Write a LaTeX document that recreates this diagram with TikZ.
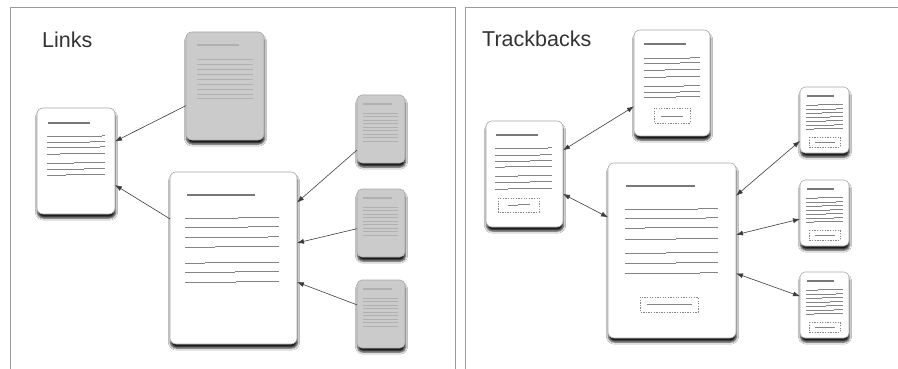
\documentclass[tikz,border=0pt]{standalone}
\usepackage{fontspec}
\setmainfont{Liberation Sans}
\usetikzlibrary{arrows.meta,shadows.blur}

\definecolor{framegrey}{HTML}{9A9A9A}
\definecolor{edgegrey}{HTML}{A8A8A8}
\definecolor{papergrey}{HTML}{CBCBCB}
\definecolor{inkgrey}{HTML}{858585}
\definecolor{titleink}{HTML}{787878}
\definecolor{fadedink}{HTML}{B0B0B0}
\definecolor{arrowgrey}{HTML}{3C3C3C}
\definecolor{headinggrey}{HTML}{333333}

% one text line of a page, with the small step where the rule breaks
\newcommand\pgline[5][]{%
  \draw[pageline,#1] (#2,#5) -- (#3,#5) (#3,#5-0.6) -- (#4,#5-0.6);}

\begin{document}
\begin{tikzpicture}[x=1pt,y=-1pt,
  page/.style={draw=edgegrey, line width=0.6pt, fill=white, rounded corners=6pt,
    inner sep=0pt, outer sep=0pt,
    blur shadow={shadow xshift=0.5pt, shadow yshift=-4pt,
      shadow blur radius=2.2pt, shadow opacity=90}},
  greypage/.style={page, fill=papergrey},
  smallpage/.style={rounded corners=5pt},
  pagetitle/.style={draw=titleink, line width=2.4pt},
  pageline/.style={draw=inkgrey, line width=0.6pt},
  slot/.style={draw=inkgrey, line width=0.5pt, dash pattern=on 1.3pt off 1.3pt},
  heading/.style={anchor=base west, inner sep=0pt, text=headinggrey,
    font=\fontsize{21.5}{25}\selectfont},
  link/.style={draw=arrowgrey, line width=0.6pt, -{Latex[length=7pt,width=5pt]}},
  tback/.style={link, {Latex[length=7pt,width=5pt]}-{Latex[length=7pt,width=5pt]}}]

\useasboundingbox[fill=white] (0,0) rectangle (898,369);

% panel frames
\draw[framegrey, line width=1pt] (10,369) -- (10,7.5) -- (455,7.5) -- (455,369);
\draw[framegrey, line width=1pt] (465,369) -- (465,7.5) -- (898,7.5);

% ---------------- Links ----------------
\node[heading] (linksT) at (42,48) {Links};

\node[page, minimum width=78pt, minimum height=106pt] (A) at (76,161) {};
\node[greypage, minimum width=78pt, minimum height=108pt] (B) at (225,86) {};
\node[page, minimum width=127pt, minimum height=172pt] (C) at (233.5,258) {};
\node[greypage, smallpage, minimum width=48pt, minimum height=68pt] (D1) at (381,129) {};
\node[greypage, smallpage, minimum width=48pt, minimum height=68pt] (D2) at (381,223) {};
\node[greypage, smallpage, minimum width=48pt, minimum height=68pt] (D3) at (381,314) {};

% page A
\draw[pagetitle] (48,123) -- (90,123);
\pgline{47}{102}{105}{136}
\pgline{47}{90}{105}{142}
\pgline{47}{100}{105}{147}
\pgline{47}{60}{105}{154}
\pgline{47}{74}{105}{163}
\pgline{47}{84}{105}{169}
\pgline{47}{66}{105}{175}

% page B (faded)
\draw[pagetitle, draw=fadedink] (197,45) -- (239,45);
\foreach \y in {59,64,69,74,79,84,89,94,98}
  \draw[pageline, draw=fadedink, line width=0.5pt] (197,\y) -- (253,\y);

% page C
\draw[pagetitle] (187,195) -- (255,195);
\pgline{185}{238}{279}{218}
\pgline{185}{248}{279}{227}
\pgline{185}{268}{279}{237}
\pgline{185}{215}{279}{247}
\pgline{185}{205}{279}{263}
\pgline{185}{235}{279}{272}
\pgline{185}{236}{279}{282}

% pages D1--D3 (faded)
\foreach \dy in {0,94,185}{
  \begin{scope}[shift={(0,\dy)}]
    \draw[pagetitle, draw=fadedink, line width=1.6pt] (363,104) -- (392,104);
    \foreach \y in {113,116.5,120,123.5,127,130.5,134,137.5,141}
      \draw[pageline, draw=fadedink, line width=0.45pt] (363,\y) -- (398,\y);
  \end{scope}}

\draw[link] (B) -- (A);
\draw[link] (C) -- (A);
\draw[link] (D1) -- (C);
\draw[link] (D2) -- (C);
\draw[link] (D3) -- (C);

% ---------------- Trackbacks ----------------
\node[heading] (tbT) at (482,47) {Trackbacks};

\node[page, minimum width=76pt, minimum height=106pt] (E) at (672,83) {};
\node[page, minimum width=77pt, minimum height=106pt] (F) at (524.5,174) {};
\node[page, minimum width=128pt, minimum height=175pt] (G) at (672,250.5) {};
\node[page, smallpage, minimum width=49pt, minimum height=66pt] (H1) at (824.5,120) {};
\node[page, smallpage, minimum width=49pt, minimum height=66pt] (H2) at (824.5,213) {};
\node[page, smallpage, minimum width=49pt, minimum height=66pt] (H3) at (824.5,305) {};

% page E
\draw[pagetitle] (644,44) -- (686,44);
\pgline{644}{690}{700}{58}
\pgline{644}{680}{700}{63}
\pgline{644}{665}{700}{70}
\pgline{644}{666}{700}{77}
\pgline{644}{684}{700}{86}
\pgline{644}{680}{700}{92}
\pgline{644}{676}{700}{97}
\draw[slot] (654,108) rectangle (690,123);
\draw[pageline, line width=0.5pt] (661,116) -- (683,116);

% page F
\draw[pagetitle] (496,135) -- (538,135);
\pgline{495}{548}{552}{148}
\pgline{495}{540}{552}{155}
\pgline{495}{530}{552}{161}
\pgline{495}{505}{552}{167}
\pgline{495}{518}{552}{176}
\pgline{495}{530}{552}{182}
\pgline{495}{508}{552}{189}
\draw[slot] (498,198) rectangle (539,212);
\pgline[line width=0.5pt]{508}{518}{530}{205}

% page G
\draw[pagetitle] (626,186) -- (695,186);
\pgline{625}{698}{718}{209}
\pgline{625}{706}{718}{218}
\pgline{625}{645}{718}{228}
\pgline{625}{676}{718}{239}
\pgline{625}{666}{718}{253}
\pgline{625}{676}{718}{263}
\pgline{625}{700}{718}{273}
\draw[slot] (640,297) rectangle (698,312);
\draw[pageline, line width=0.5pt] (647,304) -- (692,304);

% pages H1--H3
\foreach \dy in {0,93,185}{
  \begin{scope}[shift={(0,\dy)}]
    \draw[pagetitle, line width=1.8pt] (807,96) -- (834,96);
    \foreach \y/\b in {105/818,109/836,113/822,117/830,121/826,125/834,129/814}
      \pgline[line width=0.55pt]{806}{\b}{843}{\y}
    \draw[slot, line width=0.45pt] (809,137) rectangle (840,147);
    \draw[pageline, line width=0.45pt] (815,142) -- (835,142);
  \end{scope}}

\draw[tback] (F) -- (E);
\draw[tback] (F) -- (G);
\draw[tback] (G) -- (H1);
\draw[tback] (G) -- (H2);
\draw[tback] (G) -- (H3);

\end{tikzpicture}
\end{document}
